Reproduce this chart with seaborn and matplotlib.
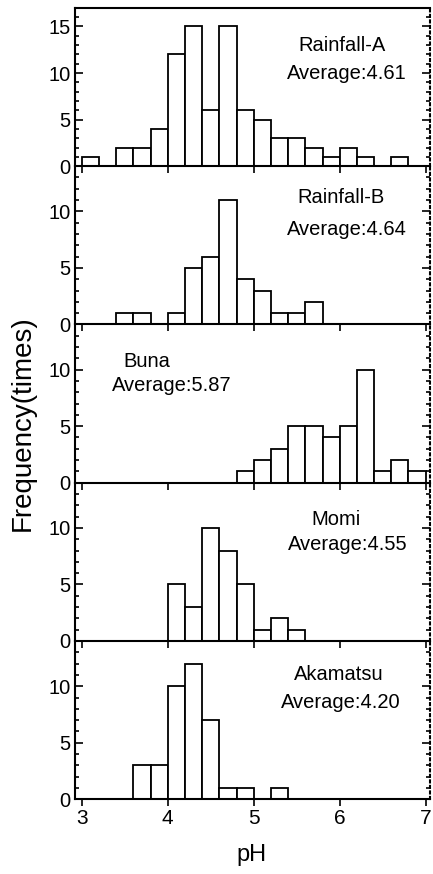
import numpy as np
import pandas as pd
import matplotlib
matplotlib.use('Agg')
import matplotlib.pyplot as plt
import seaborn as sns
from matplotlib.ticker import MultipleLocator

sns.set_style('ticks')
plt.rcParams['font.family'] = ['Liberation Sans', 'DejaVu Sans']
plt.rcParams['text.color'] = 'black'
plt.rcParams['axes.edgecolor'] = 'black'
plt.rcParams['xtick.color'] = 'black'
plt.rcParams['ytick.color'] = 'black'

# pH bins: 3.0 - 7.0, width 0.2
bin_start = 3.0
bin_width = 0.2
n_bins = 20

names = ['Rainfall-A', 'Rainfall-B', 'Buna', 'Momi', 'Akamatsu']
averages = ['4.61', '4.64', '5.87', '4.55', '4.20']

rain_a = [1, 0, 2, 2, 4, 12, 15, 6, 15, 6, 5, 3, 3, 2, 1, 2, 1, 0, 1, 0]
rain_b = [0, 0, 1, 1, 0, 1, 5, 6, 11, 4, 3, 1, 1, 2, 0, 0, 0, 0, 0, 0]
buna = [0, 0, 0, 0, 0, 0, 0, 0, 0, 1, 2, 3, 5, 5, 4, 5, 10, 1, 2, 1]
momi = [0, 0, 0, 0, 0, 5, 3, 10, 8, 5, 1, 2, 1, 0, 0, 0, 0, 0, 0, 0]
akamatsu = [0, 0, 0, 3, 3, 10, 12, 7, 1, 1, 0, 1, 0, 0, 0, 0, 0, 0, 0, 0]
counts = [rain_a, rain_b, buna, momi, akamatsu]

ymax = [17, 14, 14, 14, 14]
# label position (axes fraction) for name / average
label_pos = [
    [(0.752, 0.764), (0.766, 0.586)],
    [(0.749, 0.80), (0.766, 0.60)],
    [(0.203, 0.767), (0.273, 0.616)],
    [(0.735, 0.77), (0.769, 0.612)],
    [(0.744, 0.79), (0.749, 0.613)],
]

edges = list(bin_start + bin_width * np.arange(n_bins + 1))
centers = [e + bin_width / 2 for e in edges[:-1]]

fig, axes = plt.subplots(5, 1, figsize=(4.33, 8.74), dpi=100)
fig.subplots_adjust(left=0.173, right=0.993, top=0.991, bottom=0.0855, hspace=0)

for i, ax in enumerate(axes):
    df = pd.DataFrame({'pH': centers, 'n': counts[i]})
    sns.histplot(data=df, x='pH', weights='n', bins=edges, ax=ax,
                 color='white', edgecolor='black', linewidth=1.3, alpha=1)
    ax.set_facecolor('none')
    ax.set_xlim(2.92, 7.05)
    ax.set_ylim(0, ymax[i])
    ax.set_ylabel('')
    ax.set_xlabel('')

    ax.yaxis.set_major_locator(MultipleLocator(5))
    ax.yaxis.set_minor_locator(MultipleLocator(1))
    ax.set_xticks([3, 4, 5, 6, 7])
    ax.tick_params(axis='y', which='both', direction='in', left=True, right=True,
                   labelsize=14.5, pad=3, width=1.2)
    ax.tick_params(axis='y', which='major', length=6)
    ax.tick_params(axis='y', which='minor', length=3)
    ax.tick_params(axis='x', direction='out', length=5, width=1.2, labelsize=15, pad=2)
    if i < 4:
        ax.tick_params(axis='x', labelbottom=False)

    for s in ['left', 'bottom', 'top']:
        ax.spines[s].set_linewidth(1.5)
    ax.spines['right'].set_linestyle(':')
    ax.spines['right'].set_linewidth(1.5)
    ax.spines['top'].set_visible(i == 0)

    (x1, y1), (x2, y2) = label_pos[i]
    ax.text(x1, y1, names[i], transform=ax.transAxes, ha='center', va='center', fontsize=14.5)
    ax.text(x2, y2, 'Average:' + averages[i], transform=ax.transAxes, ha='center', va='center', fontsize=14.5)

fig.text(0.053, 0.516, 'Frequency(times)', rotation=90, ha='center', va='center', fontsize=20)
fig.text(0.58, 0.022, 'pH', ha='center', va='center', fontsize=17)

fig.savefig('out.png', dpi=100)
